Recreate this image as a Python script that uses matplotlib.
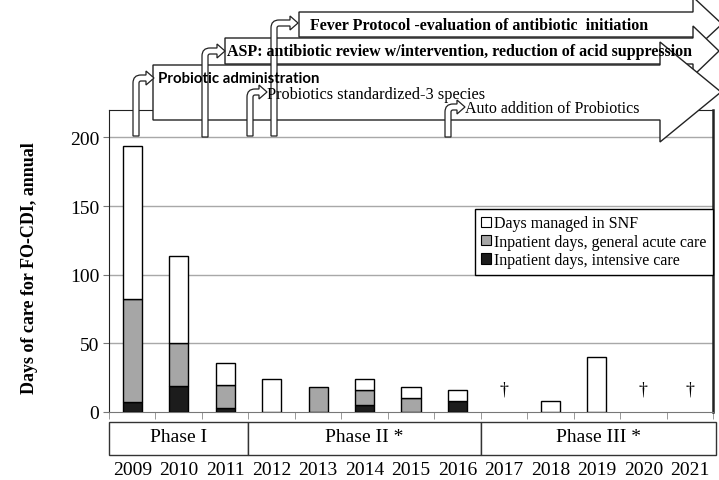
import matplotlib.pyplot as plt
import matplotlib.patches as mpatches
from matplotlib.path import Path
from matplotlib.transforms import blended_transform_factory

# data (days per year)
years = ['2009', '2010', '2011', '2012', '2013', '2014', '2015',
         '2016', '2017', '2018', '2019', '2020', '2021']
icu_days = [7, 19, 3, 0, 0, 5, 0, 8, 0, 0, 0, 0, 0]
acute_days = [75, 31, 17, 0, 18, 11, 10, 0, 0, 0, 0, 0, 0]
snf_days = [112, 64, 16, 24, 0, 8, 8, 8, 0, 8, 40, 0, 0]
dagger_years = ['2017', '2020', '2021']
dagger_level = 17

phase_labels = ['Phase I', 'Phase II *', 'Phase III *']
phase_first = ['2009', '2012', '2017']
phase_last = ['2011', '2016', '2021']

serif = 'Liberation Serif'
W, H = 719, 481

fig = plt.figure(figsize=(W / 100, H / 100), dpi=100)


def fx(x):
    return x / W


def fy(y):
    return 1 - y / H


ax = fig.add_axes([fx(109), fy(413), (713 - 109) / W, (413 - 111) / H])

xs = list(range(len(years)))
bw = 0.41
bottom = [0] * len(years)
series = [(icu_days, '#1c1c1c'), (acute_days, '#a6a6a6'), (snf_days, 'white')]
for vals, col in series:
    for i in xs:
        if vals[i] > 0:
            ax.bar(i, vals[i], bw, bottom=bottom[i], color=col,
                   edgecolor='black', linewidth=1, zorder=3)
    bottom = [b + v for b, v in zip(bottom, vals)]

for yr in dagger_years:
    ax.text(years.index(yr), dagger_level, '\u2020', ha='center', va='center',
            fontsize=13, family=serif, zorder=4)

ax.set_xlim(-0.5, len(years) - 0.5)
ax.set_ylim(0, 220)
ax.set_yticks([0, 50, 100, 150, 200])
ax.set_yticklabels(['0', '50', '100', '150', '200'], family=serif, fontsize=14)
ax.tick_params(axis='y', length=4, color='#777777', pad=3)
ax.set_xticks([])
ax.set_xticks([i - 0.5 for i in range(len(years) + 1)], minor=True)
ax.tick_params(axis='x', which='minor', length=5, color='#888888', direction='out')
for v in [50, 100, 150, 200]:
    ax.axhline(v, color='#a8a8a8', lw=1, zorder=1)
ax.spines['left'].set_color('#222222')
ax.spines['top'].set_color('#222222')
ax.spines['right'].set_color('#222222')
ax.spines['right'].set_linewidth(1.8)
ax.spines['bottom'].set_color('#777777')

leg_handles = [mpatches.Patch(facecolor='white', edgecolor='black', lw=0.8),
               mpatches.Patch(facecolor='#a6a6a6', edgecolor='black', lw=0.8),
               mpatches.Patch(facecolor='#1c1c1c', edgecolor='black', lw=0.8)]
leg = ax.legend(leg_handles, ['Days managed in SNF', 'Inpatient days, general acute care',
                              'Inpatient days, intensive care'],
                loc='upper right', bbox_to_anchor=(1.0, (413 - 210) / 302),
                prop={'family': serif, 'size': 11.5}, fancybox=False,
                edgecolor='black', framealpha=1, borderaxespad=0,
                handlelength=0.6, handleheight=0.6, handletextpad=0.2,
                labelspacing=0.15, borderpad=0.4)
leg.get_frame().set_linewidth(1)

# phase row and year labels
tr = blended_transform_factory(ax.transData, fig.transFigure)
for lab, a, b in zip(phase_labels, phase_first, phase_last):
    i0 = years.index(a) - 0.5
    i1 = years.index(b) + 0.5
    if b == years[-1]:
        i1 += 0.06
    ax.add_patch(mpatches.Rectangle((i0, fy(456)), i1 - i0, fy(423) - fy(456),
                                    transform=tr, facecolor='white', edgecolor='#333333',
                                    lw=1, clip_on=False))
    ax.text((i0 + i1) / 2, fy(442), lab, transform=tr, ha='center', va='baseline',
            family=serif, fontsize=14)
for i, yr in enumerate(years):
    ax.text(i, fy(475), yr, transform=tr, ha='center', va='baseline',
            family=serif, fontsize=14)

fig.text(fx(30), fy(268), 'Days of care for FO-CDI, annual', rotation=90,
         ha='center', va='center', family=serif, fontsize=13, fontweight='bold')


# intervention arrows on top
def block_arrow(pts, z):
    p = mpatches.Polygon([(fx(x), fy(y)) for x, y in pts], closed=True,
                         transform=fig.transFigure, facecolor='white',
                         edgecolor='#222222', lw=1, zorder=z)
    fig.add_artist(p)


block_arrow([(299, 13), (693, 13), (693, -2), (722, 25), (693, 52), (693, 38), (299, 38)], 2)
block_arrow([(225, 39), (693, 39), (693, 27), (719, 52), (693, 77), (693, 65), (225, 65)], 3)
block_arrow([(153, 66), (660, 66), (660, 43), (721, 93), (660, 143), (660, 121), (153, 121)], 4)


def bent_arrow(xl, yb, yc, xtip, z=6):
    w, t, r, hh, hl = 6, 3, 8, 7, 8
    x1, x2 = xl, xl + w
    xh = xtip - hl
    pts = [(x1, yb), (x1, yc - t + r), (x1, yc - t), (x1 + r, yc - t),
           (xh, yc - t), (xh, yc - hh), (xtip, yc), (xh, yc + hh), (xh, yc + t),
           (x2 + 2, yc + t), (x2, yc + t), (x2, yc + t + 2), (x2, yb), (x1, yb)]
    codes = [Path.MOVETO, Path.LINETO, Path.CURVE3, Path.CURVE3,
             Path.LINETO, Path.LINETO, Path.LINETO, Path.LINETO, Path.LINETO,
             Path.LINETO, Path.CURVE3, Path.CURVE3, Path.LINETO, Path.CLOSEPOLY]
    path = Path([(fx(x), fy(y)) for x, y in pts], codes)
    fig.add_artist(mpatches.PathPatch(path, transform=fig.transFigure,
                                      facecolor='white', edgecolor='#222222',
                                      lw=0.9, zorder=z))


bent_arrow(133, 137, 79, 154)
bent_arrow(202, 138, 52, 225)
bent_arrow(271, 137, 24, 298)
bent_arrow(247, 137, 93, 267)
bent_arrow(445, 138, 108, 465)

fig.text(fx(310), fy(26), 'Fever Protocol -evaluation of antibiotic  initiation',
         ha='left', va='center', family=serif, fontweight='bold', fontsize=11.5, zorder=7)
fig.text(fx(227), fy(52), 'ASP: antibiotic review w/intervention, reduction of acid suppression',
         ha='left', va='center', family=serif, fontweight='bold', fontsize=11.5, zorder=7)
fig.text(fx(158), fy(79), 'Probiotic administration',
         ha='left', va='center', family='Lato', fontweight='bold', fontsize=10.8, zorder=7)
fig.text(fx(267), fy(95), 'Probiotics standardized-3 species',
         ha='left', va='center', family=serif, fontsize=11.7, zorder=7)
fig.text(fx(465), fy(109), 'Auto addition of Probiotics',
         ha='left', va='center', family=serif, fontsize=11.5, zorder=7)

fig.savefig('out.png', dpi=100)
